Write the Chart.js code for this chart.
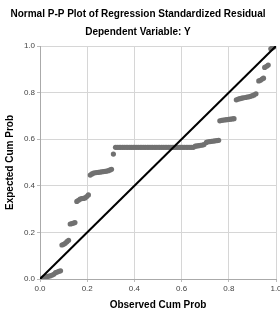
<!DOCTYPE html>
<html><head><meta charset="utf-8">
<script src="https://cdn.jsdelivr.net/npm/chart.js@4"></script>
<style>html,body{margin:0;padding:0;background:#fff;}#wrap{width:280px;height:311px;}</style>
</head><body><div id="wrap"><canvas id="c" width="280" height="311"></canvas></div>
<script>
const titleText = "Normal P-P Plot of Regression Standardized Residual";
const subtitleText = "Dependent Variable: Y";
const xAxisTitle = "Observed Cum Prob";
const yAxisTitle = "Expected Cum Prob";
const tickValues = [0, 0.2, 0.4, 0.6, 0.8, 1.0];
const observedCumProb = [
  0.010,0.018,0.026,0.034,0.042,0.050,0.058,
  0.066,0.073,0.080,0.087,
  0.093,0.100,0.107,0.114,0.121,
  0.128,0.135,0.142,0.148,
  0.156,0.163,0.170,0.177,0.184,0.191,0.198,0.205,
  0.213,0.220,0.227,0.234,0.241,0.248,0.255,0.262,0.269,0.276,0.283,0.290,0.297,0.303,
  0.311,
  0.320,0.327,0.335,0.342,0.350,0.357,0.365,0.372,0.380,0.387,0.395,0.402,0.410,0.417,0.425,0.432,0.440,0.447,0.455,0.462,0.470,0.477,0.485,0.492,0.500,0.507,0.515,0.522,0.530,0.537,0.545,0.552,0.560,0.567,0.575,0.582,0.590,0.597,0.605,0.612,0.620,0.627,0.635,0.642,0.650,
  0.658,0.665,0.673,0.680,0.688,0.695,
  0.705,0.712,0.720,0.727,0.735,0.742,0.750,0.757,
  0.762,0.770,0.777,0.785,0.792,0.800,0.807,0.815,0.822,
  0.832,0.840,0.847,0.855,0.862,0.870,0.877,0.885,0.892,0.900,0.907,0.915,
  0.927,0.934,0.941,0.947,
  0.952,0.960,0.967,
  0.978,0.985,0.993
];
const expectedCumProb = [
  0.003,0.006,0.009,0.011,0.013,0.016,0.020,
  0.027,0.030,0.033,0.035,
  0.146,0.149,0.153,0.160,0.166,
  0.236,0.238,0.240,0.242,
  0.333,0.338,0.343,0.345,0.346,0.348,0.354,0.361,
  0.446,0.451,0.455,0.456,0.457,0.458,0.459,0.460,0.461,0.462,0.463,0.465,0.468,0.471,
  0.536,
  0.565,0.565,0.565,0.565,0.565,0.565,0.565,0.565,0.565,0.565,0.565,0.565,0.565,0.565,0.565,0.565,0.565,0.565,0.565,0.565,0.565,0.565,0.565,0.565,0.565,0.565,0.565,0.565,0.565,0.565,0.565,0.565,0.565,0.565,0.565,0.565,0.565,0.565,0.565,0.565,0.565,0.565,0.565,0.565,0.565,
  0.570,0.571,0.572,0.574,0.575,0.577,
  0.586,0.589,0.590,0.591,0.592,0.593,0.594,0.595,
  0.679,0.681,0.682,0.683,0.684,0.685,0.686,0.687,0.688,
  0.769,0.772,0.774,0.776,0.778,0.779,0.781,0.782,0.784,0.787,0.790,0.795,
  0.850,0.853,0.858,0.862,
  0.908,0.913,0.918,
  0.988,0.992,0.997
];
const refLineX = [0, 1];
const refLineY = [0, 1];

const points = observedCumProb.map((x, i) => ({x: x, y: expectedCumProb[i]}));
const refLine = refLineX.map((x, i) => ({x: x, y: refLineY[i]}));
const FONT = "'Liberation Sans', Arial, sans-serif";

new Chart(document.getElementById('c'), {
  type: 'scatter',
  data: {
    datasets: [
      {type: 'line', data: refLine, borderColor: '#000', borderWidth: 2, pointRadius: 0, fill: false, order: 0},
      {data: points, backgroundColor: '#717171', borderColor: '#717171', borderWidth: 0, pointRadius: 2.6, order: 1}
    ]
  },
  options: {
    responsive: false,
    animation: false,
    events: [],
    layout: {padding: {left: 0, right: 4, top: 0, bottom: 0}},
    plugins: {
      legend: {display: false},
      tooltip: {enabled: false},
      title: {display: true, text: titleText, color: '#000', font: {family: FONT, size: 10, weight: 'bold'}, padding: {top: 8, bottom: 5}},
      subtitle: {display: true, text: subtitleText, color: '#000', font: {family: FONT, size: 10, weight: 'bold'}, padding: {top: 1, bottom: 8}}
    },
    scales: {
      x: {
        type: 'linear', min: 0, max: 1,
        afterBuildTicks: s => { s.ticks = tickValues.map(v => ({value: v})); },
        ticks: {color: '#444', font: {family: FONT, size: 8}, padding: 2, maxRotation: 0, callback: v => Number(v).toFixed(1)},
        grid: {color: '#d6d6d6', lineWidth: 1, tickLength: 3, tickColor: '#bbb'},
        border: {color: '#aaa'},
        title: {display: true, text: xAxisTitle, color: '#000', font: {family: FONT, size: 10, weight: 'bold'}, padding: {top: 5, bottom: 0}},
        afterFit: s => { s.height = 32; s.paddingLeft = 0; s.paddingRight = 0; }
      },
      y: {
        type: 'linear', min: 0, max: 1,
        afterBuildTicks: s => { s.ticks = tickValues.map(v => ({value: v})); },
        ticks: {color: '#444', font: {family: FONT, size: 8}, padding: 2, callback: v => Number(v).toFixed(1)},
        grid: {color: '#d6d6d6', lineWidth: 1, tickLength: 3, tickColor: '#bbb'},
        border: {color: '#aaa'},
        title: {display: true, text: yAxisTitle, color: '#000', font: {family: FONT, size: 10, weight: 'bold'}, padding: {top: 4, bottom: 4}},
        afterFit: s => { s.width = 40; }
      }
    }
  }
});
</script></body></html>
